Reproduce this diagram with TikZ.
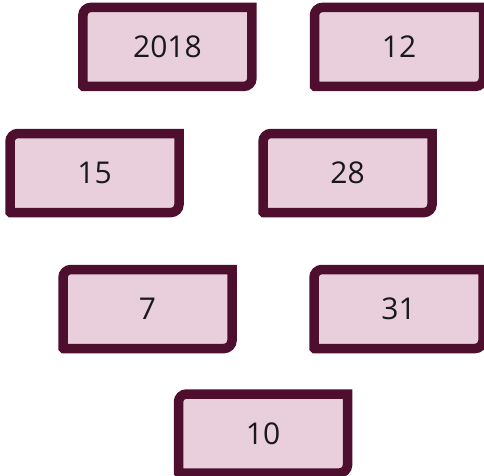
\documentclass[tikz,border=0pt]{standalone}
\usepackage{fontspec}
\setmainfont{Open Sans}
\usepackage{tikz}
\usetikzlibrary{backgrounds}
\definecolor{boxfill}{HTML}{E9CFDC}
\definecolor{boxedge}{HTML}{4E0F2F}

\begin{document}
\begin{tikzpicture}[x=1pt,y=-1pt,
  numbox/.style={rectangle,minimum width=169pt,minimum height=79pt,inner sep=0pt,
                 outer sep=0pt,font=\fontsize{30}{35}\selectfont,text=black!90},
  edge/.style={draw=boxedge,fill=boxfill,line width=9.5pt}]
\useasboundingbox (0,0) rectangle (484,475);
\node[numbox] (n2018) at (167.4,46.9) {2018};
\node[numbox] (n12)   at (399,46.9)   {12};
\node[numbox] (n15)   at (94.5,173)   {15};
\node[numbox] (n28)   at (347.5,173)  {28};
\node[numbox] (n7)    at (147.5,309)  {7};
\node[numbox] (n31)   at (398.5,309)  {31};
\node[numbox] (n10)   at (263,433.5)  {10};
% outlines behind the numbers
\begin{scope}[on background layer]
\foreach \n in {n2018,n12,n15,n28,n7,n31,n10}
  \path[edge] (\n.north east) -- (\n.north)
    [rounded corners=8pt] -- (\n.north west) -- (\n.west)
    [rounded corners=0.5pt] -- (\n.south west) -- (\n.south)
    [rounded corners=8pt] -- (\n.south east) -- (\n.east)
    [sharp corners] -- cycle;
\end{scope}
\end{tikzpicture}
\end{document}
